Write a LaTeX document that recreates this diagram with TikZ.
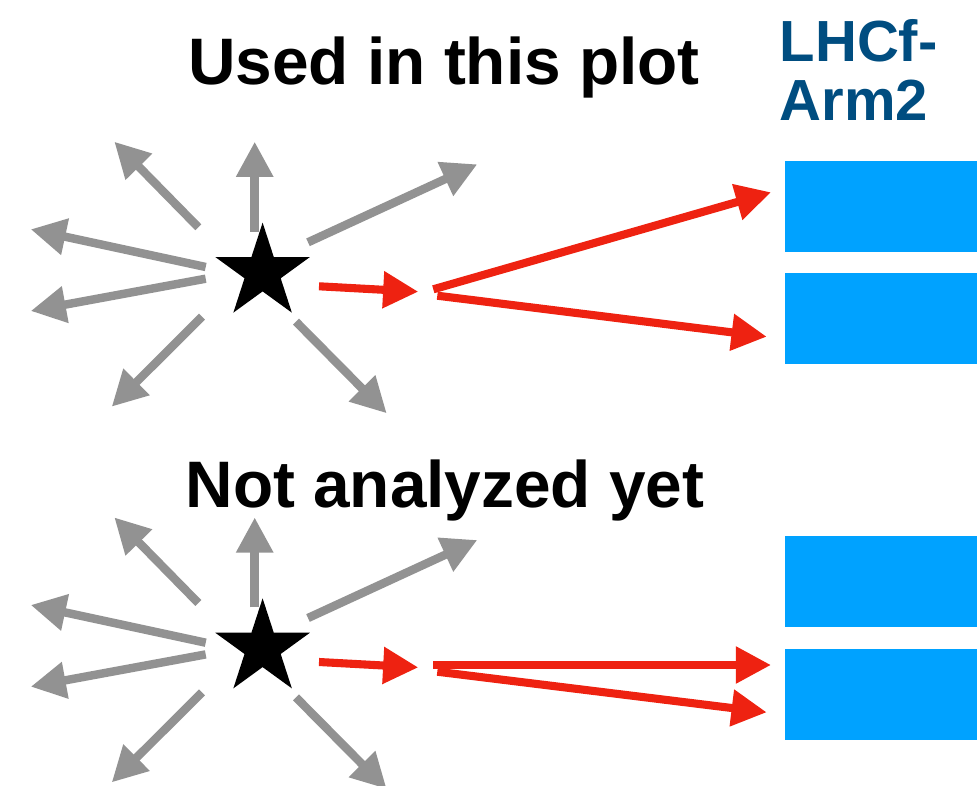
\documentclass[tikz,border=0pt]{standalone}
\usepackage{fontspec}
\setmainfont{Liberation Sans}
\usetikzlibrary{arrows.meta,shapes.geometric}
\definecolor{greyarr}{RGB}{146,146,146}
\definecolor{redarr}{RGB}{238,34,17}
\definecolor{detblue}{RGB}{0,162,255}
\definecolor{lhcfblue}{RGB}{0,77,128}
\begin{document}
\begin{tikzpicture}[x=0.01cm,y=-0.01cm,
  greyarrow/.style={draw=greyarr, line width=2.4pt, -{Triangle[length=10pt,width=10pt]}},
  redarrow/.style={draw=redarr, line width=2.3pt, -{Triangle[length=10pt,width=10pt]}},
  starnode/.style={star, star points=5, star point ratio=2.618, fill=black, draw=none, inner sep=0pt, minimum size=0.995cm},
  detbox/.style={fill=detblue, draw=none, inner sep=0pt, minimum width=1.92cm, minimum height=0.907cm},
  titletext/.style={font=\bfseries\fontsize{18.7}{22}\selectfont, inner sep=0pt, anchor=base},
  armtext/.style={font=\bfseries\fontsize{16.5}{16.8}\selectfont, text=lhcfblue, inner sep=0pt, align=left}
]
\useasboundingbox (0,0) rectangle (977,786);

% titles
\node[titletext] (title1) at (444,85) {Used in this plot};
\node[titletext] (title2) at (445,508) {Not analyzed yet};
\node[armtext, anchor=base west] (arm) at (779,120.7) {LHCf-\\Arm2};

% detectors
\node[detbox] (d1) at (881,206.35) {};
\node[detbox] (d2) at (881,318.35) {};
\node[detbox] (d3) at (881,581.35) {};
\node[detbox] (d4) at (881,694.35) {};

% two collision groups
\foreach \g/\dy in {a/0,b/375.7}{
  \node[starnode] (star-\g) at (262.6,{272.4+\dy}) {};
  \coordinate (g1s-\g) at (254.7,{231.7+\dy}); \coordinate (g1e-\g) at (254.7,{141.7+\dy});
  \coordinate (g2s-\g) at (198.3,{227.3+\dy}); \coordinate (g2e-\g) at (114.3,{141.7+\dy});
  \coordinate (g3s-\g) at (205.7,{267+\dy});   \coordinate (g3e-\g) at (30.7,{229.3+\dy});
  \coordinate (g4s-\g) at (205.7,{278.7+\dy}); \coordinate (g4e-\g) at (30.7,{311+\dy});
  \coordinate (g5s-\g) at (202,{316.7+\dy});   \coordinate (g5e-\g) at (111.7,{406.7+\dy});
  \coordinate (g6s-\g) at (296,{321.7+\dy});   \coordinate (g6e-\g) at (386.7,{413.3+\dy});
  \coordinate (g7s-\g) at (308,{242.3+\dy});   \coordinate (g7e-\g) at (477.3,{164.3+\dy});
  \coordinate (rs-\g) at (319,{286.3+\dy});    \coordinate (re-\g) at (418.3,{291.7+\dy});
  \foreach \k in {1,...,7}{
    \draw[greyarrow] (g\k s-\g) -- (g\k e-\g);
  }
  \draw[redarrow] (rs-\g) -- (re-\g);
}

% photon pairs
\coordinate (p1s) at (433.3,289.3); \coordinate (p1e) at (771,192.3);
\coordinate (p2s) at (437.3,295.7); \coordinate (p2e) at (766.7,336.7);
\coordinate (p3s) at (433.3,665);   \coordinate (p3e) at (771,665);
\coordinate (p4s) at (437.3,671.7); \coordinate (p4e) at (766.7,712.3);
\draw[redarrow] (p1s) -- (p1e);
\draw[redarrow] (p2s) -- (p2e);
\draw[redarrow] (p3s) -- (p3e);
\draw[redarrow] (p4s) -- (p4e);
\end{tikzpicture}
\end{document}
